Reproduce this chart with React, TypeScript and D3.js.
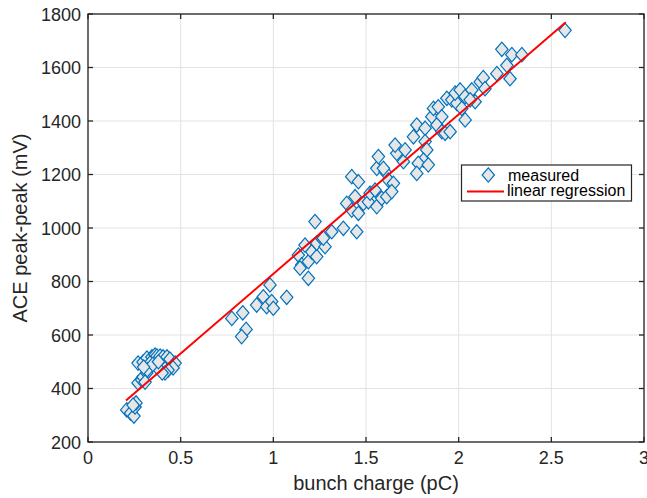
import React from "react";
import * as d3 from "d3";

const xTicks = [0, 0.5, 1, 1.5, 2, 2.5, 3];
const xTickLabels = ["0", "0.5", "1", "1.5", "2", "2.5", "3"];
const yTicks = [200, 400, 600, 800, 1000, 1200, 1400, 1600, 1800];
const yTickLabels = ["200", "400", "600", "800", "1000", "1200", "1400", "1600", "1800"];

// measured points: bunch charge (pC)
const chargeLow = [0.209, 0.23, 0.248, 0.254, 0.259, 0.243, 0.27, 0.29, 0.297, 0.317, 0.308, 0.27, 0.297, 0.318, 0.345, 0.362, 0.372, 0.389, 0.405, 0.426, 0.442, 0.47, 0.459, 0.432, 0.416, 0.40, 0.372, 0.335, 0.32, 0.35, 0.38, 0.30];
const peakLow = [320, 308, 297, 331, 346, 338, 421, 432, 443, 458, 424, 495, 499, 514, 518, 525, 521, 521, 518, 518, 510, 495, 477, 469, 458, 458, 480, 495, 470, 490, 500, 480];

const chargeMid = [0.776, 0.835, 0.853, 0.829, 0.91, 0.946, 0.982, 0.964, 0.991, 1.0, 1.072, 1.135, 1.153, 1.144, 1.189, 1.189, 1.207, 1.234, 1.171, 1.234, 1.261, 1.279, 1.225, 1.27, 1.315, 1.378, 1.45];
const peakMid = [662, 683, 621, 594, 712, 743, 787, 706, 725, 700, 741, 899, 862, 850, 812, 874, 911, 893, 936, 943, 961, 930, 1024, 962, 986, 999, 986];

const chargeHigh = [1.396, 1.423, 1.441, 1.459, 1.486, 1.513, 1.522, 1.549, 1.558, 1.585, 1.423, 1.459, 1.558, 1.567, 1.603, 1.621, 1.648, 1.612, 1.639, 1.666, 1.702, 1.711, 1.594, 1.657, 1.756, 1.774, 1.819, 1.819, 1.828, 1.81, 1.782, 1.774, 1.836, 1.855, 1.864, 1.89, 1.909, 1.882, 1.909, 1.927, 1.954, 1.936, 1.963, 1.99, 1.981, 2.008, 2.017, 2.035, 2.035, 2.071, 2.089, 2.062, 2.116, 2.133, 2.142, 2.233, 2.287, 2.341, 2.26, 2.277, 2.206, 2.574];
const peakHigh = [1092, 1067, 1117, 1055, 1092, 1098, 1130, 1142, 1080, 1111, 1192, 1173, 1223, 1267, 1210, 1179, 1167, 1117, 1136, 1279, 1248, 1292, 1223, 1310, 1341, 1385, 1373, 1323, 1292, 1254, 1242, 1204, 1236, 1416, 1447, 1453, 1416, 1385, 1360, 1354, 1360, 1485, 1479, 1466, 1504, 1516, 1447, 1404, 1491, 1516, 1472, 1479, 1546, 1562, 1521, 1668, 1648, 1648, 1608, 1558, 1577, 1739];

const regressionX = [0.205, 2.578];
const regressionY = [355, 1769];

const legendLabels = ["measured", "linear regression"];

const W = 647;
const H = 498;
const font = "'Liberation Sans', Arial, Helvetica, sans-serif";
const axisColor = "#262626";
const gridColor = "#e3e3e3";
const markerStroke = "#0072BD";
const markerFill = "#e6e6e6";

function diamond(cx: number, cy: number, hw = 6.2, hh = 7.2) {
  return `M${cx},${cy - hh}L${cx + hw},${cy}L${cx},${cy + hh}L${cx - hw},${cy}Z`;
}

export default function App() {
  const x = d3.scaleLinear().domain([0, 3]).range([88, 644]);
  const y = d3.scaleLinear().domain([200, 1800]).range([442, 14]);
  const [x0, x1] = x.range();
  const [y0, y1] = y.range();

  const charge = [...chargeLow, ...chargeMid, ...chargeHigh];
  const peak = [...peakLow, ...peakMid, ...peakHigh];
  const pts = charge.map((c, i) => [c, peak[i]] as [number, number]);

  const line = d3
    .line<[number, number]>()
    .x((d) => x(d[0]))
    .y((d) => y(d[1]));
  const regPts = regressionX.map((v, i) => [v, regressionY[i]] as [number, number]);

  const tick = 5;
  const lx = 461.5, ly = 165, lw = 170, lh = 36;

  return (
    <svg width={W} height={H} style={{ position: "absolute", left: 0, top: 0, background: "#fff" }} fontFamily={font}>
      <rect x={0} y={0} width={W} height={H} fill="#fff" />
      {/* grid */}
      {xTicks.map((t) => (
        <line key={"gx" + t} x1={x(t)} x2={x(t)} y1={y0} y2={y1} stroke={gridColor} strokeWidth={1} />
      ))}
      {yTicks.map((t) => (
        <line key={"gy" + t} x1={x0} x2={x1} y1={y(t)} y2={y(t)} stroke={gridColor} strokeWidth={1} />
      ))}
      {/* markers */}
      {pts.map((p, i) => (
        <path key={"p" + i} d={diamond(x(p[0]), y(p[1]))} fill={markerFill} stroke={markerStroke} strokeWidth={1.2} />
      ))}
      {/* regression */}
      <path d={line(regPts) || ""} fill="none" stroke="#ff0000" strokeWidth={2} />
      {/* box */}
      <rect x={x0} y={y1} width={x1 - x0} height={y0 - y1} fill="none" stroke={axisColor} strokeWidth={1.3} />
      {/* ticks */}
      {xTicks.map((t) => (
        <g key={"tx" + t}>
          <line x1={x(t)} x2={x(t)} y1={y0} y2={y0 - tick} stroke={axisColor} strokeWidth={1.3} />
          <line x1={x(t)} x2={x(t)} y1={y1} y2={y1 + tick} stroke={axisColor} strokeWidth={1.3} />
        </g>
      ))}
      {yTicks.map((t) => (
        <g key={"ty" + t}>
          <line x1={x0} x2={x0 + tick} y1={y(t)} y2={y(t)} stroke={axisColor} strokeWidth={1.3} />
          <line x1={x1} x2={x1 - tick} y1={y(t)} y2={y(t)} stroke={axisColor} strokeWidth={1.3} />
        </g>
      ))}
      {/* tick labels */}
      {xTicks.map((t, i) => (
        <text key={"lx" + t} x={x(t)} y={y0 + 22} textAnchor="middle" fontSize={18} fill={axisColor}>
          {xTickLabels[i]}
        </text>
      ))}
      {yTicks.map((t, i) => (
        <text key={"ly" + t} x={x0 - 7} y={y(t) + 6.5} textAnchor="end" fontSize={18} fill={axisColor}>
          {yTickLabels[i]}
        </text>
      ))}
      {/* axis labels */}
      <text x={376} y={490} textAnchor="middle" fontSize={20} fill={axisColor}>
        bunch charge (pC)
      </text>
      <text transform={`translate(27,${(y0 + y1) / 2}) rotate(-90)`} textAnchor="middle" fontSize={20} fill={axisColor}>
        ACE peak-peak (mV)
      </text>
      {/* legend */}
      <rect x={lx} y={ly} width={lw} height={lh} fill="#fff" stroke={axisColor} strokeWidth={1.2} />
      <path d={diamond(488.3, 175)} fill={markerFill} stroke={markerStroke} strokeWidth={1.2} />
      <line x1={467} x2={504} y1={191.5} y2={191.5} stroke="#ff0000" strokeWidth={2} />
      <text x={508} y={180.5} fontSize={16} fill="#000">{legendLabels[0]}</text>
      <text x={507} y={196} fontSize={16} fill="#000">{legendLabels[1]}</text>
    </svg>
  );
}
